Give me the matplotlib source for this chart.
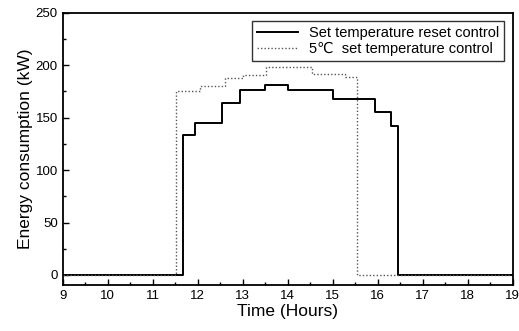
import numpy as np
import matplotlib
matplotlib.use("Agg")
import matplotlib.pyplot as plt
from matplotlib.ticker import MultipleLocator

plt.rcParams['font.family'] = ['Liberation Sans', 'DejaVu Sans']

# step data (hour where the level starts, level in kW)
reset_hours = [9.0, 11.67, 11.95, 12.55, 12.95, 13.5, 14.0, 15.0, 15.95, 16.3, 16.45, 19.0]
reset_kw = [0, 133, 145, 164, 176, 181, 176, 168, 155, 142, 0, 0]

fixed_hours = [9.0, 11.52, 12.05, 12.6, 13.0, 13.52, 14.55, 15.27, 15.55, 16.45, 19.0]
fixed_kw = [0, 175, 180, 188, 191, 198, 192, 189, 0, 0, 0]

fig = plt.figure(figsize=(5.19, 3.31), dpi=100)
ax = fig.add_axes([0.1208, 0.1375, 0.8671, 0.8241])

ax.step(reset_hours, reset_kw, where='post', color='black', lw=1.4,
        label='Set temperature reset control')
ax.step(fixed_hours, fixed_kw, where='post', color='#555555', lw=1.0,
        linestyle=(0, (1, 1.5)), label='5\u2103  set temperature control')

ax.set_xlim(9, 19)
ax.set_ylim(-10, 250)
ax.xaxis.set_major_locator(MultipleLocator(1))
ax.xaxis.set_minor_locator(MultipleLocator(0.5))
ax.yaxis.set_major_locator(MultipleLocator(50))
ax.yaxis.set_minor_locator(MultipleLocator(25))
ax.tick_params(which='both', direction='in', labelsize=9.5, width=1.0)
ax.tick_params(which='major', length=4)
ax.tick_params(which='minor', length=2.5)
for s in ax.spines.values():
    s.set_linewidth(1.3)

ax.set_xlabel('Time (Hours)', fontsize=12.5, labelpad=1)
ax.set_ylabel('Energy consumption (kW)', fontsize=12.5, labelpad=2)

leg = ax.legend(loc='upper right', fontsize=10.5, frameon=True, fancybox=False,
                edgecolor='black', borderpad=0.3, handlelength=2.8,
                labelspacing=0.15, borderaxespad=0.6)
leg.get_frame().set_linewidth(1.0)

plt.savefig('out.png', dpi=100)
